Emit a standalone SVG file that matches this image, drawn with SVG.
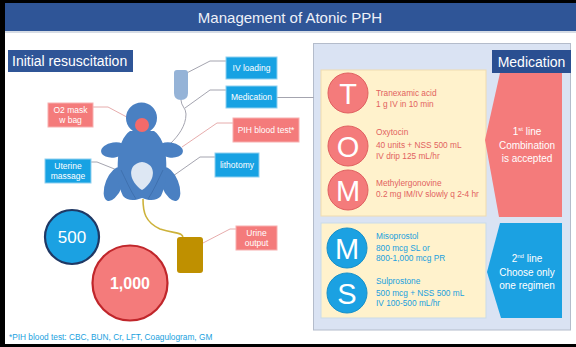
<svg xmlns="http://www.w3.org/2000/svg" width="576" height="347" viewBox="0 0 576 347">
  <style>
    text { font-family: "Liberation Sans", Arial, sans-serif; }
    .title { font-size: 15px; fill: #eef1f8; text-anchor: middle; }
    .label { font-size: 14px; fill: #ffffff; }
    .box-blue { fill: #17a2e3; stroke: #8fd0ef; stroke-width: 1; }
    .box-red { fill: #f47b7b; stroke: #f7b0b0; stroke-width: 1; }
    .box-text { font-size: 8.5px; fill: #ffffff; text-anchor: middle; }
    .lead { fill: none; stroke: #9a9aa6; stroke-width: 0.9; }
    .lead-red { fill: none; stroke: #e3a3a3; stroke-width: 0.9; }
    .body { fill: #4a80c2; }
    .med-red { font-size: 8.3px; fill: #e2625f; }
    .med-blue { font-size: 8.3px; fill: #1a9fde; }
    .letter { font-size: 29px; fill: #ffffff; text-anchor: middle; }
    .tag { font-size: 10px; fill: #ffffff; text-anchor: middle; }
    .sup { font-size: 6px; }
  </style>

  <!-- frame -->
  <rect x="0" y="0" width="576" height="347" fill="#000000"/>
  <rect x="5" y="3" width="571" height="341" fill="#ffffff"/>

  <!-- title bar -->
  <g id="title">
    <rect x="5" y="3" width="571" height="28" fill="#2f5597"/>
    <line x1="5" y1="32" x2="576" y2="32" stroke="#c9d0dc" stroke-width="1.5"/>
    <text class="title" x="290" y="23">Management of Atonic PPH</text>
  </g>

  <!-- section label -->
  <g id="initial-resuscitation">
    <rect x="8" y="50" width="125" height="22" fill="#2f5597"/>
    <text class="label" x="12" y="66">Initial resuscitation</text>
  </g>

  <!-- medication panel -->
  <g id="medication-panel">
    <rect x="313.5" y="43.5" width="257" height="286.5" fill="#dae3f3" stroke="#b4bccb" stroke-width="1"/>
    <rect x="492" y="50" width="79" height="23" fill="#2a4f91"/>
    <text class="label" x="531.5" y="66.5" text-anchor="middle">Medication</text>
  </g>

  <!-- connectors -->
  <g id="connectors">
    <!-- IV tubing from bag to shoulder -->
    <path class="lead" d="M181,100 C181,106 186,108 186,114 C186,126 178,136 171,143"/>
    <!-- callout leaders -->
    <polyline class="lead" points="226,61 210,61 177,78"/>
    <polyline class="lead" points="226,90 210,90 185,108"/>
    <line class="lead" x1="277" y1="97.5" x2="313.5" y2="97.5"/>
    <polyline class="lead-red" points="233,123 217,123 182,147"/>
    <polyline class="lead" points="215,157 200,157 173,176"/>
    <polyline class="lead-red" points="93,107 108,107 138,123"/>
    <polyline class="lead" points="91,162 97,162 137,178"/>
    <polyline class="lead-red" points="236,229 230,229 203,243"/>
    <!-- urinary catheter -->
    <path d="M143,199 C143,212 145,222 160,229 C176,234 183,232 183,238" fill="none" stroke="#cdb23a" stroke-width="1.6"/>
  </g>

  <!-- patient figure -->
  <g id="patient">
    <ellipse class="body" cx="114" cy="184" rx="8.5" ry="18" transform="rotate(22 114 184)"/>
    <ellipse class="body" cx="170" cy="184" rx="8.5" ry="18" transform="rotate(-22 170 184)"/>
    <ellipse class="body" cx="114" cy="150" rx="13" ry="7.5" transform="rotate(-8 114 150)"/>
    <ellipse class="body" cx="170" cy="150" rx="13" ry="7.5" transform="rotate(8 170 150)"/>
    <path class="body" d="M130,131 L154,131 C161,136 165,146 166,158 C167,172 166,186 161,196 C157,201 149,201 142,198 C135,201 127,201 123,196 C118,186 117,172 118,158 C119,146 123,136 130,131 Z"/>
    <path d="M121,170 C126,180 130,190 136,199 M163,170 C158,180 154,190 148,199" fill="none" stroke="#3b6aa6" stroke-width="0.7"/>
    <circle class="body" cx="141.5" cy="118" r="15.5"/>
    <circle cx="142" cy="125" r="7" fill="#f36a6a"/>
    <path d="M142,190 C129,182 126,164 142,162 C158,164 155,182 142,190 Z" fill="#dde7f3"/>
  </g>

  <!-- IV bag -->
  <g id="iv-bag">
    <path d="M174,73 Q174,70 177,70 L185,70 Q188,70 188,73 L188,93 Q188,100 181,100 Q174,100 174,93 Z" fill="#95b3d7"/>
  </g>

  <!-- urine bag -->
  <g id="urine-bag">
    <rect x="177" y="237" width="26" height="36" rx="3" fill="#bf9000"/>
  </g>

  <g id="iv-loading">
    <rect class="box-blue" x="226" y="57" width="51" height="22"/>
    <text class="box-text" x="251.5" y="71">IV loading</text>
  </g>
  <g id="medication">
    <rect class="box-blue" x="226" y="86" width="51" height="22"/>
    <text class="box-text" x="251.5" y="100">Medication</text>
  </g>
  <g id="pih-blood-test">
    <rect class="box-red" x="233" y="118" width="66" height="24"/>
    <text class="box-text" x="266" y="133">PIH blood test*</text>
  </g>
  <g id="lithotomy">
    <rect class="box-blue" x="215" y="153" width="44" height="24"/>
    <text class="box-text" x="237" y="168">lithotomy</text>
  </g>
  <g id="o2-mask">
    <rect class="box-red" x="48" y="103" width="45" height="24"/>
    <text class="box-text" x="70.5" y="113">O2 mask</text>
    <text class="box-text" x="70.5" y="123">w bag</text>
  </g>
  <g id="uterine-massage">
    <rect class="box-blue" x="45" y="159" width="46" height="24"/>
    <text class="box-text" x="68" y="169">Uterine</text>
    <text class="box-text" x="68" y="179">massage</text>
  </g>
  <g id="urine-output">
    <rect class="box-red" x="236" y="226" width="41" height="24"/>
    <text class="box-text" x="256.5" y="236">Urine</text>
    <text class="box-text" x="256.5" y="246">output</text>
  </g>

  <!-- blood loss circles -->
  <g id="loss-500">
    <circle cx="72" cy="237" r="27" fill="#1ba1e2" stroke="#1f3864" stroke-width="2.2"/>
    <text x="72" y="243" font-size="17" fill="#ffffff" text-anchor="middle">500</text>
  </g>
  <g id="loss-1000">
    <circle cx="130" cy="283" r="37.5" fill="#f47b7b" stroke="#c0262b" stroke-width="2.2"/>
    <text x="130" y="289" font-size="16" font-weight="bold" fill="#ffffff" text-anchor="middle">1,000</text>
  </g>

  <!-- first line drugs -->
  <g id="first-line">
    <rect x="321" y="70" width="165" height="146" fill="#fff2cc" stroke="#efdcb0" stroke-width="1"/>
    <polygon points="500,73 562,73 562,217 499,217 485,140" fill="#f47b7b"/>
    <text class="tag" x="527" y="135">1<tspan class="sup" dy="-4">st</tspan><tspan dy="4"> line</tspan></text>
    <text class="tag" x="527" y="149">Combination</text>
    <text class="tag" x="527" y="162">is accepted</text>
  </g>
  <g id="drug-t">
    <circle cx="348" cy="93" r="20" fill="#f47b7b" stroke="#e06060" stroke-width="1"/>
    <text class="letter" x="348" y="103.5">T</text>
    <text class="med-red" x="376" y="96">Tranexamic acid</text>
    <text class="med-red" x="376" y="107">1 g IV in 10 min</text>
  </g>
  <g id="drug-o">
    <circle cx="348" cy="146" r="20" fill="#f47b7b" stroke="#e06060" stroke-width="1"/>
    <text class="letter" x="348" y="156.5">O</text>
    <text class="med-red" x="376" y="135">Oxytocin</text>
    <text class="med-red" x="376" y="148">40 units + NSS 500 mL</text>
    <text class="med-red" x="376" y="159">IV drip 125 mL/hr</text>
  </g>
  <g id="drug-m1">
    <circle cx="348" cy="190" r="20" fill="#f47b7b" stroke="#e06060" stroke-width="1"/>
    <text class="letter" x="348" y="200.5">M</text>
    <text class="med-red" x="376" y="186">Methylergonovine</text>
    <text class="med-red" x="376" y="197">0.2 mg IM/IV slowly q 2-4 hr</text>
  </g>

  <!-- second line drugs -->
  <g id="second-line">
    <rect x="321" y="223" width="165" height="95" fill="#fff2cc" stroke="#c9dbe9" stroke-width="1"/>
    <polygon points="500,223 562,223 562,318 501,318 487,272" fill="#1ba1e2"/>
    <text class="tag" x="527" y="262">2<tspan class="sup" dy="-4">nd</tspan><tspan dy="4"> line</tspan></text>
    <text class="tag" x="527" y="276">Choose only</text>
    <text class="tag" x="527" y="289">one regimen</text>
  </g>
  <g id="drug-m2">
    <circle cx="347" cy="248" r="20" fill="#1ba1e2" stroke="#1690c9" stroke-width="1"/>
    <text class="letter" x="347" y="258.5">M</text>
    <text class="med-blue" x="376" y="239">Misoprostol</text>
    <text class="med-blue" x="376" y="251">800 mcg SL or</text>
    <text class="med-blue" x="376" y="261">800-1,000 mcg PR</text>
  </g>
  <g id="drug-s">
    <circle cx="347" cy="293" r="20" fill="#1ba1e2" stroke="#1690c9" stroke-width="1"/>
    <text class="letter" x="347" y="303.5">S</text>
    <text class="med-blue" x="376" y="284">Sulprostone</text>
    <text class="med-blue" x="376" y="296">500 mcg + NSS 500 mL</text>
    <text class="med-blue" x="376" y="306">IV 100-500 mL/hr</text>
  </g>

  <!-- footnote -->
  <text x="9" y="340" font-size="8.3" fill="#1a9fde">*PIH blood test: CBC, BUN, Cr, LFT, Coagulogram, GM</text>
</svg>
